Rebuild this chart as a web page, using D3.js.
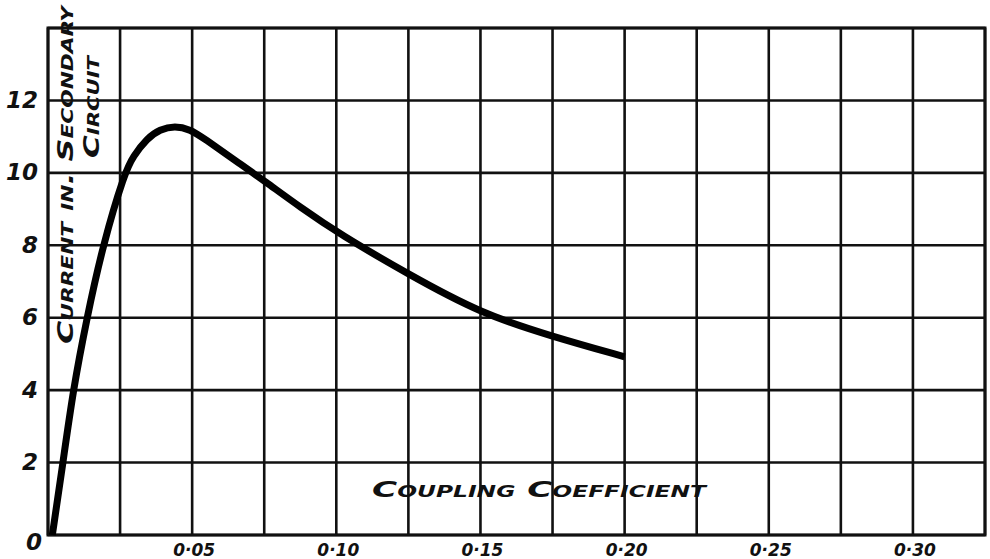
<!DOCTYPE html>
<html>
<head>
<meta charset="utf-8">
<script src="https://cdn.jsdelivr.net/npm/d3@7"></script>
<style>
  body { margin: 0; background: #fff; }
  svg { display: block; }
  text { font-family: 'DejaVu Sans', sans-serif; font-style: italic; font-weight: bold; fill: #111; }
</style>
</head>
<body>
<svg id="chart" width="990" height="559"></svg>
<script>
// coupling coefficient vs secondary current
const coupling = [0.0015, 0.0052, 0.0087, 0.0135, 0.019, 0.0267, 0.0295, 0.0343, 0.0388, 0.044, 0.0493, 0.0538, 0.0666, 0.075, 0.0875, 0.1013, 0.125, 0.15, 0.175, 0.20];
const current = [0, 2, 4, 6, 8, 10.03, 10.45, 10.95, 11.2, 11.3, 11.2, 10.97, 10.25, 9.78, 9.05, 8.3, 7.2, 6.12, 5.48, 4.92];

const xGrid = d3.range(0, 14).map((i) => i * 0.025);
const yGrid = [0, 2, 4, 6, 8, 10, 12, 14];
const xTicks = [0.05, 0.10, 0.15, 0.20, 0.25, 0.30];
const xTickLabels = ['0·05', '0·10', '0·15', '0·20', '0·25', '0·30'];
const yTicks = [0, 2, 4, 6, 8, 10, 12];

const svg = d3.select('#chart');
const x = d3.scaleLinear().domain([0, 0.325]).range([48, 985]);
const y = d3.scaleLinear().domain([0, 14]).range([535, 28]);

// grid
svg.append('g')
  .selectAll('line')
  .data(xGrid)
  .join('line')
  .attr('x1', (d) => x(d)).attr('x2', (d) => x(d))
  .attr('y1', y(0)).attr('y2', y(14))
  .attr('stroke', '#111').attr('stroke-width', 2.6);

svg.append('g')
  .selectAll('line')
  .data(yGrid)
  .join('line')
  .attr('x1', x(0)).attr('x2', x(0.325))
  .attr('y1', (d) => y(d)).attr('y2', (d) => y(d))
  .attr('stroke', '#111').attr('stroke-width', 2.6);

svg.append('rect')
  .attr('x', x(0)).attr('y', y(14))
  .attr('width', x(0.325) - x(0)).attr('height', y(0) - y(14))
  .attr('fill', 'none').attr('stroke', '#111').attr('stroke-width', 3);

// tick labels
svg.append('g')
  .selectAll('text')
  .data(xTicks)
  .join('text')
  .attr('x', (d) => x(d) + 2)
  .attr('y', 556)
  .attr('text-anchor', 'middle')
  .attr('font-size', 17)
  .text((d, i) => xTickLabels[i]);

svg.append('g')
  .selectAll('text')
  .data(yTicks)
  .join('text')
  .attr('x', (d) => (d === 0 ? 42 : 38))
  .attr('y', (d) => y(d) + (d === 0 ? 8 : 1))
  .attr('text-anchor', 'end')
  .attr('dominant-baseline', 'middle')
  .attr('font-size', 23)
  .text((d) => d);

// axis titles
svg.append('text')
  .attr('x', 372)
  .attr('y', 497)
  .attr('font-size', 22)
  .attr('font-variant', 'small-caps')
  .attr('font-weight', 'normal')
  .attr('textLength', 334)
  .attr('lengthAdjust', 'spacingAndGlyphs')
  .text('Coupling   Coefficient');

svg.append('text')
  .attr('transform', 'translate(73,344) rotate(-90)')
  .attr('font-size', 22)
  .attr('font-variant', 'small-caps')
  .attr('font-weight', 'normal')
  .attr('textLength', 338)
  .attr('lengthAdjust', 'spacingAndGlyphs')
  .text('Current  in. Secondary');

svg.append('text')
  .attr('transform', 'translate(99,158) rotate(-90)')
  .attr('font-size', 22)
  .attr('font-variant', 'small-caps')
  .attr('font-weight', 'normal')
  .attr('textLength', 102)
  .attr('lengthAdjust', 'spacingAndGlyphs')
  .text('Circuit');

// curve
const line = d3.line()
  .x((d, i) => x(coupling[i]))
  .y((d) => y(d))
  .curve(d3.curveBasis);

svg.append('path')
  .datum(current)
  .attr('d', line)
  .attr('fill', 'none')
  .attr('stroke', '#000')
  .attr('stroke-width', 7)
  .attr('stroke-linecap', 'butt');
</script>
</body>
</html>
